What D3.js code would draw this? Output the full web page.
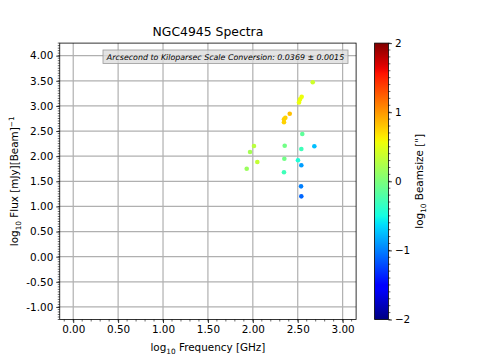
<!DOCTYPE html>
<html>
<head>
<meta charset="utf-8">
<script src="https://cdn.jsdelivr.net/npm/d3@7"></script>
<style>
  body { margin: 0; background: #fff; }
  text { font-family: "DejaVu Sans", sans-serif; fill: #000; }
</style>
</head>
<body>
<div id="chart"></div>
<script>
// log10 frequency [GHz], log10 flux, log10 beamsize
var freq = [2.667, 2.544, 2.525, 2.514, 2.411, 2.362, 2.347, 2.347, 2.551, 2.013, 2.355,
            2.685, 2.540, 1.969, 2.351, 2.503, 2.050, 2.540, 1.932, 2.347, 2.537, 2.540]
var flux = [3.47, 3.18, 3.13, 3.07, 2.845, 2.765, 2.733, 2.674, 2.441, 2.202, 2.208,
            2.196, 2.143, 2.083, 1.95, 1.918, 1.884, 1.818, 1.75, 1.679, 1.40, 1.201]
var beam = [0.40, 0.55, 0.55, 0.55, 0.83, 0.75, 0.75, 0.75, -0.15, 0.30, -0.05,
            -0.75, -0.30, 0.20, -0.05, -0.45, 0.35, -0.88, 0.15, -0.30, -1.00, -1.10]

var xTicks = [0, 0.5, 1, 1.5, 2, 2.5, 3]
var yTicks = [-1, -0.5, 0, 0.5, 1, 1.5, 2, 2.5, 3, 3.5, 4]
var cTicks = [-2, -1, 0, 1, 2]

var W = 478, H = 359
var m = {left: 59.75, right: 356.1, top: 43.1, bottom: 319.5}

var svg = d3.select('#chart').append('svg').attr('width', W).attr('height', H)

var x = d3.scaleLinear().domain([-0.15, 3.15]).range([m.left, m.right])
var y = d3.scaleLinear().domain([-1.25, 4.25]).range([m.bottom, m.top])

// matplotlib jet
function jet(t){
  t = Math.max(0, Math.min(1, t))
  function seg(pts){
    for (var i = 1; i < pts.length; i++){
      if (t <= pts[i][0]){
        var a = pts[i-1], b = pts[i]
        return a[1] + (b[1] - a[1]) * (t - a[0]) / (b[0] - a[0])
      }
    }
    return pts[pts.length-1][1]
  }
  var r = seg([[0,0],[0.35,0],[0.66,1],[0.89,1],[1,0.5]])
  var g = seg([[0,0],[0.125,0],[0.375,1],[0.64,1],[0.91,0],[1,0]])
  var b = seg([[0,0.5],[0.11,1],[0.34,1],[0.65,0],[1,0]])
  return d3.rgb(r*255, g*255, b*255).toString()
}
var cnorm = d3.scaleLinear().domain([-2, 2]).range([0, 1])

// grid
svg.append('g').selectAll('line').data(xTicks).join('line')
  .attr('x1', d => x(d)).attr('x2', d => x(d)).attr('y1', m.top).attr('y2', m.bottom)
  .attr('stroke', '#b0b0b0').attr('stroke-width', 1.2)
svg.append('g').selectAll('line').data(yTicks).join('line')
  .attr('y1', d => y(d)).attr('y2', d => y(d)).attr('x1', m.left).attr('x2', m.right)
  .attr('stroke', '#b0b0b0').attr('stroke-width', 1.2)

// annotation box
var note = svg.append('g')
note.append('rect').attr('x', 103).attr('y', 50).attr('width', 245).attr('height', 13.5)
  .attr('fill', '#dcdcdc').attr('fill-opacity', 0.8).attr('stroke', '#999').attr('stroke-width', 0.8)
note.append('text').attr('x', 225.5).attr('y', 59.8).attr('text-anchor', 'middle')
  .style('font-size', '7.9px').style('font-style', 'italic')
  .text('Arcsecond to Kiloparsec Scale Conversion: 0.0369 \u00b1 0.0015')

// points
var pts = freq.map((f, i) => ({f: f, v: flux[i], b: beam[i]}))
svg.append('g').selectAll('circle').data(pts).join('circle')
  .attr('cx', d => x(d.f)).attr('cy', d => y(d.v)).attr('r', 2.3)
  .attr('fill', d => jet(cnorm(d.b)))

// axes
var xAxis = d3.axisBottom(x).tickValues(xTicks).tickFormat(d3.format('.2f')).tickSize(3.5).tickPadding(3)
var yAxis = d3.axisLeft(y).tickValues(yTicks).tickFormat(d => d3.format('.2f')(d).replace('\u2212', '-')).tickSize(3.5).tickPadding(3)
var gx = svg.append('g').attr('transform', 'translate(0,' + m.bottom + ')').call(xAxis)
var gy = svg.append('g').attr('transform', 'translate(' + m.left + ',0)').call(yAxis)
;[gx, gy].forEach(g => {
  g.select('.domain').remove()
  g.selectAll('text').style('font-size', '10.4px').style('font-family', '"DejaVu Sans", sans-serif').attr('fill', '#000')
  g.selectAll('line').attr('stroke', '#000').attr('stroke-width', 0.8)
})

// minor ticks
var xMinor = d3.range(-1, 32).map(i => i / 10).filter(v => v >= -0.15 && v <= 3.15)
svg.append('g').selectAll('line').data(xMinor).join('line')
  .attr('x1', d => x(d)).attr('x2', d => x(d)).attr('y1', m.bottom).attr('y2', m.bottom + 2)
  .attr('stroke', '#000').attr('stroke-width', 0.6)
var yMinor = d3.range(-25, 86).map(i => i / 20).filter(v => v >= -1.25 && v <= 4.25)
svg.append('g').selectAll('line').data(yMinor).join('line')
  .attr('y1', d => y(d)).attr('y2', d => y(d)).attr('x1', m.left).attr('x2', m.left - 2)
  .attr('stroke', '#000').attr('stroke-width', 0.6)

// frame
svg.append('rect').attr('x', m.left).attr('y', m.top).attr('width', m.right - m.left).attr('height', m.bottom - m.top)
  .attr('fill', 'none').attr('stroke', '#000').attr('stroke-width', 0.8)

// title and labels
svg.append('text').attr('x', (m.left + m.right) / 2).attr('y', 36).attr('text-anchor', 'middle')
  .style('font-size', '12.4px').text('NGC4945 Spectra')

var xl = svg.append('text').attr('x', (m.left + m.right) / 2).attr('y', 351).attr('text-anchor', 'middle').style('font-size', '10.4px')
xl.append('tspan').text('log')
xl.append('tspan').attr('dy', 2.5).style('font-size', '7.3px').text('10')
xl.append('tspan').attr('dy', -2.5).text(' Frequency [GHz]')

var yl = svg.append('text').attr('transform', 'translate(18,' + ((m.top + m.bottom) / 2) + ') rotate(-90)')
  .attr('text-anchor', 'middle').style('font-size', '10.4px')
yl.append('tspan').text('log')
yl.append('tspan').attr('dy', 2.5).style('font-size', '7.3px').text('10')
yl.append('tspan').attr('dy', -2.5).text(' Flux [mJy][Beam]')
yl.append('tspan').attr('dy', -4).style('font-size', '7.3px').text('\u22121')

// colorbar
var cb = {x: 374.6, w: 13.8}
var cy = d3.scaleLinear().domain([-2, 2]).range([m.bottom, m.top])
var grad = svg.append('defs').append('linearGradient').attr('id', 'jetgrad')
  .attr('x1', 0).attr('y1', 1).attr('x2', 0).attr('y2', 0)
grad.selectAll('stop').data(d3.range(0, 65)).join('stop')
  .attr('offset', d => d / 64).attr('stop-color', d => jet(d / 64))
svg.append('rect').attr('x', cb.x).attr('y', m.top).attr('width', cb.w).attr('height', m.bottom - m.top)
  .attr('fill', 'url(#jetgrad)').attr('stroke', '#000').attr('stroke-width', 0.8)

var cAxis = d3.axisRight(cy).tickValues(cTicks).tickFormat(d => d < 0 ? '\u2212' + Math.abs(d) : d).tickSize(3.5).tickPadding(3)
var gc = svg.append('g').attr('transform', 'translate(' + (cb.x + cb.w) + ',0)').call(cAxis)
gc.select('.domain').remove()
gc.selectAll('text').style('font-size', '10.4px').style('font-family', '"DejaVu Sans", sans-serif').attr('fill', '#000')
gc.selectAll('line').attr('stroke', '#000').attr('stroke-width', 0.8)
var cMinor = d3.range(-20, 21).map(i => i / 10)
svg.append('g').selectAll('line').data(cMinor).join('line')
  .attr('y1', d => cy(d)).attr('y2', d => cy(d)).attr('x1', cb.x + cb.w).attr('x2', cb.x + cb.w + 2)
  .attr('stroke', '#000').attr('stroke-width', 0.6)

var cl = svg.append('text').attr('transform', 'translate(423,' + ((m.top + m.bottom) / 2) + ') rotate(-90)')
  .attr('text-anchor', 'middle').style('font-size', '10.4px')
cl.append('tspan').text('log')
cl.append('tspan').attr('dy', 2.5).style('font-size', '7.3px').text('10')
cl.append('tspan').attr('dy', -2.5).text(' Beamsize ["]')
</script>
</body>
</html>
